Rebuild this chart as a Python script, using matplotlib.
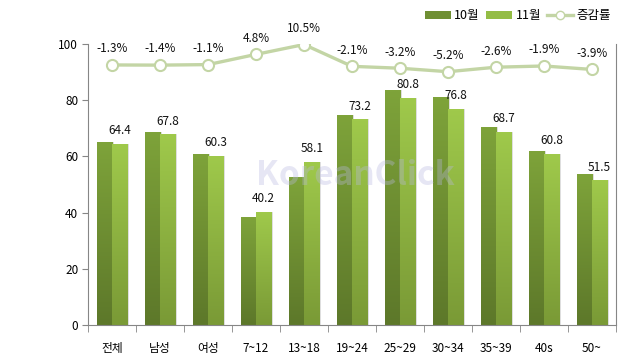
import numpy as np
import matplotlib.pyplot as plt
from matplotlib.lines import Line2D
from matplotlib.patches import Patch

plt.rcParams['font.family'] = ['Noto Sans CJK KR', 'DejaVu Sans']

categories = ['전체', '남성', '여성', '7~12', '13~18', '19~24', '25~29', '30~34', '35~39', '40s', '50~']
oct_vals = [65.2, 68.8, 61.0, 38.4, 52.6, 74.8, 83.5, 81.0, 70.5, 62.0, 53.6]
nov_vals = [64.4, 67.8, 60.3, 40.2, 58.1, 73.2, 80.8, 76.8, 68.7, 60.8, 51.5]
change = [-1.3, -1.4, -1.1, 4.8, 10.5, -2.1, -3.2, -5.2, -2.6, -1.9, -3.9]

fig = plt.figure(figsize=(6.19, 3.64), dpi=100)
ax = fig.add_axes([88 / 619, 1 - 325 / 364, 528 / 619, 281 / 364])
ax2 = ax.twinx()

x = np.arange(len(categories))
w = 0.32


def grad_bars(xs, vals, top_col, bot_col):
    bars = ax.bar(xs, vals, w, color='none', zorder=2)
    top = np.array(plt.matplotlib.colors.to_rgb(top_col))
    bot = np.array(plt.matplotlib.colors.to_rgb(bot_col))
    t = np.linspace(0, 1, 64)[:, None]
    img = (top * (1 - t) + bot * t)[:, None, :]
    for b in bars:
        x0, y0 = b.get_x(), b.get_y()
        im = ax.imshow(img, extent=[x0, x0 + b.get_width(), y0, y0 + b.get_height()],
                       aspect='auto', zorder=2, interpolation='bilinear')
        im.set_clip_path(b)
        # soft shadow on the right
        ax.bar(x0 + b.get_width() + 0.012, b.get_height(), 0.025, align='edge',
               color='#dedede', zorder=1)
    return bars


grad_bars(x - w / 2, oct_vals, '#7ea33a', '#5d782a')
grad_bars(x + w / 2, nov_vals, '#9fc94b', '#7a9a36')

for xi, v in zip(x, nov_vals):
    ax.text(xi + w / 2, v + 2.4, f'{v:.1f}', ha='center', va='bottom', fontsize=8.5, color='#111111')

ax.set_xlim(-0.5, len(categories) - 0.5)
ax.set_ylim(0, 100)
ax.set_yticks(range(0, 101, 20))
ax.set_xticks(x)
ax.set_xticklabels(categories)
ax.set_xticks(np.arange(-0.5, len(categories), 1), minor=True)
ax.tick_params(axis='x', which='major', length=0, pad=12, labelsize=8.5)
ax.tick_params(axis='x', which='minor', length=5, color='#868686', direction='out')
ax.tick_params(axis='y', length=4, color='#868686', labelsize=8.5, pad=3)
ax.spines['top'].set_visible(False)
ax2.spines['top'].set_visible(False)
for s in ['left', 'bottom']:
    ax.spines[s].set_color('#868686')
ax2.spines['right'].set_color('#868686')
ax.spines['right'].set_visible(False)
ax2.spines['left'].set_visible(False)
ax2.spines['bottom'].set_visible(False)

ax2.plot(x, change, color='#c3d5a5', lw=2.4, marker='o', ms=8, mfc='white',
         mec='#c3d5a5', mew=1.5, zorder=3)
ax2.set_ylim(-151.5, 10.8)
ax2.set_yticks([])
for xi, c in zip(x, change):
    ax2.text(xi, c + 5.6, f'{c}%', ha='center', va='bottom', fontsize=8.5, color='#111111')

# watermark
fig.text(355 / 619, 1 - 175 / 364, 'KoreanClick', fontsize=24, fontweight='bold', color='#b8b8e0',
         alpha=0.35, ha='center', va='center', zorder=0)

handles = [Patch(facecolor='#6f8f33', edgecolor='none'),
           Patch(facecolor='#94bd45', edgecolor='none'),
           Line2D([], [], color='#c3d5a5', lw=2.4, marker='o', ms=6, mfc='white', mec='#c3d5a5')]
fig.legend(handles, ['10월', '11월', '증감률'], loc='center', bbox_to_anchor=(518 / 619, 1 - 16 / 364),
           ncol=3, frameon=False, fontsize=9, handlelength=2.1, handleheight=0.6,
           columnspacing=0.5, handletextpad=0.25)

fig.savefig('out.png', dpi=100)
